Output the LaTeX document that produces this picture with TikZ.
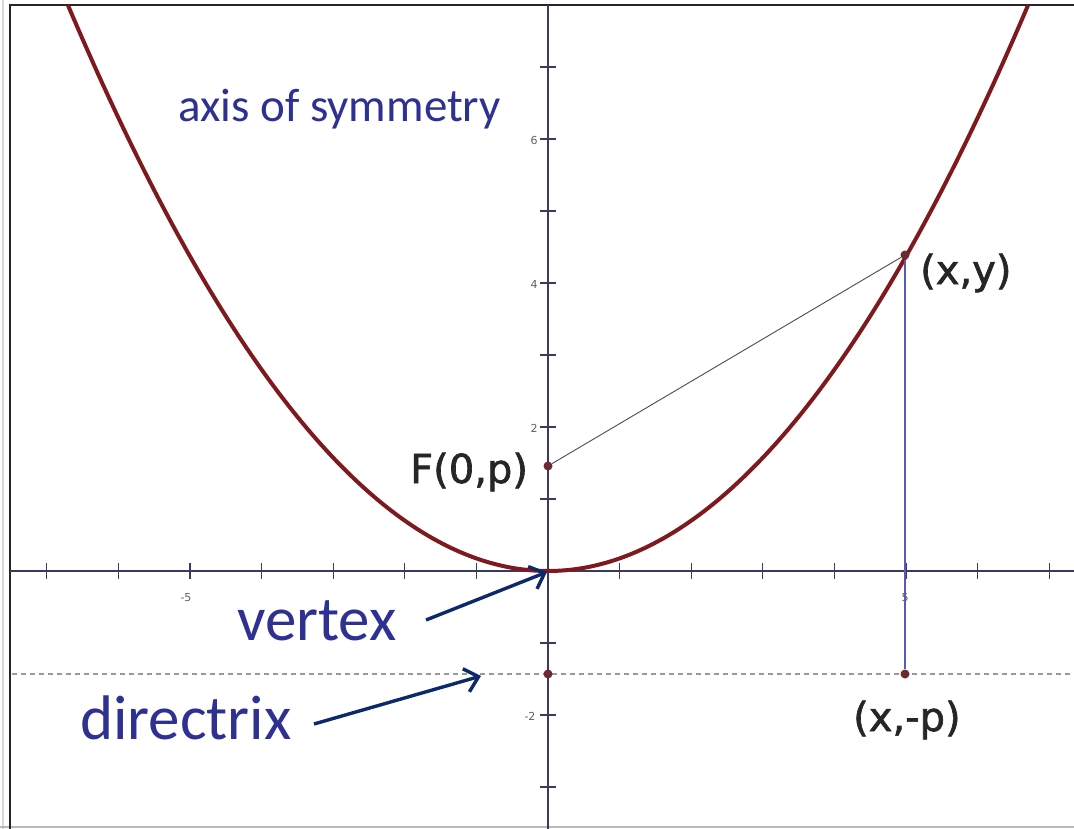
\documentclass[tikz,border=0pt]{standalone}
\usepackage{fontspec}
\newfontfamily\calib{Carlito}
\newfontfamily\dvs{DejaVu Sans}
\newfontfamily\dvsb[FakeBold=1.6]{DejaVu Sans}
\usetikzlibrary{arrows.meta}
\definecolor{curvecol}{HTML}{7E1A1E}
\definecolor{axiscol}{HTML}{3A3A5E}
\definecolor{labblue}{HTML}{2E3192}
\definecolor{arrnavy}{HTML}{0C2A6B}
\definecolor{vertcol}{HTML}{5A5AB4}
\definecolor{ptcol}{HTML}{6E2A30}
\tikzset{
  axisline/.style={draw=axiscol, line width=1.4pt},
  tickline/.style={draw=axiscol, line width=1.2pt},
  ticklab/.style={text=gray!75!black, font=\dvs\fontsize{11}{12}\selectfont, inner sep=0pt},
  curveline/.style={draw=curvecol, line width=4pt},
  dirline/.style={draw=gray!80, line width=1.6pt, dash pattern=on 5pt off 4pt},
  dotpt/.style={circle, fill=ptcol, inner sep=0pt, minimum size=9pt},
  bluelab/.style={text=labblue, inner sep=0pt},
  pointlab/.style={text=black!85, font=\dvsb\fontsize{40}{44}\selectfont, inner sep=0pt, anchor=base west},
  callout/.style={draw=arrnavy, line width=3.4pt, -{Straight Barb[length=13pt,width=24pt]}},
}
\begin{document}
\begin{tikzpicture}[x=1pt,y=-1pt]
\useasboundingbox (0,0) rectangle (1074,829);
\fill[white] (0,0) rectangle (1074,829);
% frame
\draw[gray!30, line width=2pt] (3,0) -- (3,829);
\draw[gray!55, line width=1.2pt] (0,827) -- (1074,827);
\draw[black!85, line width=2.2pt] (10,829) -- (10,5) -- (1074,5);
% axes
\draw[axisline] (10,571) -- (1074,571);
\draw[axisline] (548,5) -- (548,829);
\foreach \k in {-7,...,-1,1,2,...,7} {\draw[tickline] ({548+71.6*\k},563) -- ({548+71.6*\k},579);}
\foreach \k in {-3,...,-1,1,2,...,7} {\draw[tickline] (540,{571-72*\k}) -- (556,{571-72*\k});}
\node[ticklab] (t6) at (534,140) {6};
\node[ticklab] (t4) at (534,284) {4};
\node[ticklab] (t2) at (534,428) {2};
\node[ticklab] (tm2) at (530,716) {-2};
\node[ticklab] (tm5) at (186,598) {-5};
\node[ticklab] (t5) at (905,598) {5};
% directrix
\draw[dirline] (12,674) -- (1074,674);
% parabola
\begin{scope}
\clip (11,6) rectangle (1074,829);
\draw[curveline] plot[domain=-6.9:6.9, samples=200] ({548+71.6*\x},{571-72*\x*\x/5.72});
\end{scope}
% points
\node[dotpt] (F) at (548,466) {};
\node[dotpt] (P) at (905,255) {};
\node[dotpt] (D) at (548,674) {};
\node[dotpt] (Q) at (905,674) {};
\coordinate (V) at (547,572);
\draw[black!70, line width=0.9pt] (F) -- (P);
\draw[vertcol, line width=1.3pt] (P) -- (Q);
% labels
\node[bluelab, anchor=base west, font=\calib\fontsize{47}{50}\selectfont] (axis) at (178,122) {axis of symmetry};
\node[bluelab, anchor=base west, font=\calib\fontsize{63}{66}\selectfont] (vtx) at (237,640) {vertex};
\node[bluelab, anchor=base west, font=\calib\fontsize{63}{66}\selectfont] (dir) at (80,739) {directrix};
\node[pointlab] (lxy) at (920,284) {(x,y)};
\node[pointlab] (lF) at (410,483) {F(0,p)};
\node[pointlab] (lxp) at (853,731) {(x,-p)};
% callout arrows
\coordinate (vs) at (426,620);
\coordinate (ds) at (314,724);
\coordinate (de) at (481,676);
\draw[callout] (vs) -- (V);
\draw[callout] (ds) -- (de);
\end{tikzpicture}
\end{document}
